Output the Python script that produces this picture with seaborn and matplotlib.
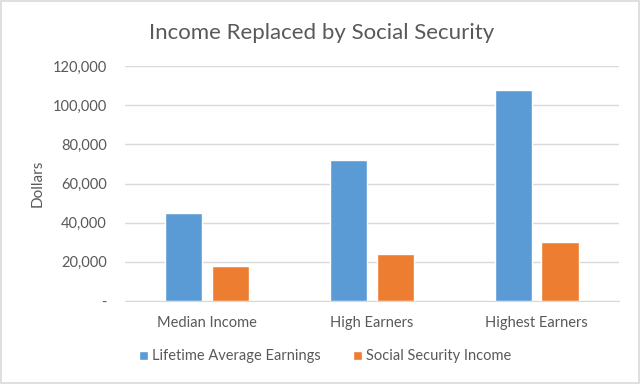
import pandas as pd
import seaborn as sns
import matplotlib.pyplot as plt
from matplotlib.patches import Rectangle
from matplotlib.ticker import FuncFormatter

# Datos
categorias = ['Median Income', 'High Earners', 'Highest Earners']
ingresos_vida = [44800, 72000, 108000]
seguridad_social = [18000, 24000, 30000]
series = ['Lifetime Average Earnings', 'Social Security Income']

df = pd.DataFrame({
    'categoria': categorias * 2,
    'serie': [series[0]] * 3 + [series[1]] * 3,
    'valor': ingresos_vida + seguridad_social,
})

sns.set_style('white')
plt.rcParams['font.family'] = ['Lato', 'DejaVu Sans']
gris = '#595959'

fig = plt.figure(figsize=(6.4, 3.84), dpi=100)
ax = fig.add_axes([0.195, 0.216, 0.772, 0.612])

sns.barplot(data=df, x='categoria', y='valor', hue='serie',
            palette=['#5B9BD5', '#ED7D31'], width=0.57, gap=0.21,
            saturation=1, ax=ax, legend=True)

ax.set_ylim(0, 120000)
ax.set_yticks(range(0, 120001, 20000))
ax.yaxis.set_major_formatter(FuncFormatter(lambda v, p: '-' if v == 0 else f'{int(v):,}'))
ax.grid(axis='y', color='#D9D9D9', linewidth=1)
ax.set_axisbelow(True)
for s in ['top', 'right', 'left']:
    ax.spines[s].set_visible(False)
ax.spines['bottom'].set_color('#D9D9D9')
ax.tick_params(axis='both', length=0, colors=gris, labelsize=10.5)
ax.tick_params(axis='y', pad=13)
ax.tick_params(axis='x', pad=11)
ax.set_xlabel('')
ax.set_ylabel('Dollars', color=gris, fontsize=11, labelpad=6)

handles, labels = ax.get_legend_handles_labels()
ax.get_legend().remove()
fig.legend(handles, labels, loc='center', bbox_to_anchor=(0.508, 0.072), ncol=2,
           frameon=False, fontsize=10.5, labelcolor=gris, handlelength=0.6,
           handleheight=0.6, handletextpad=0.3, columnspacing=2.2)

fig.text(0.503, 0.915, 'Income Replaced by Social Security', ha='center', va='center',
         fontsize=16, color=gris)

fig.patches.append(Rectangle((0.002, 0.003), 0.996, 0.994, transform=fig.transFigure,
                             fill=False, edgecolor='#D9D9D9', linewidth=1.2))

fig.savefig('out.png', dpi=100)
